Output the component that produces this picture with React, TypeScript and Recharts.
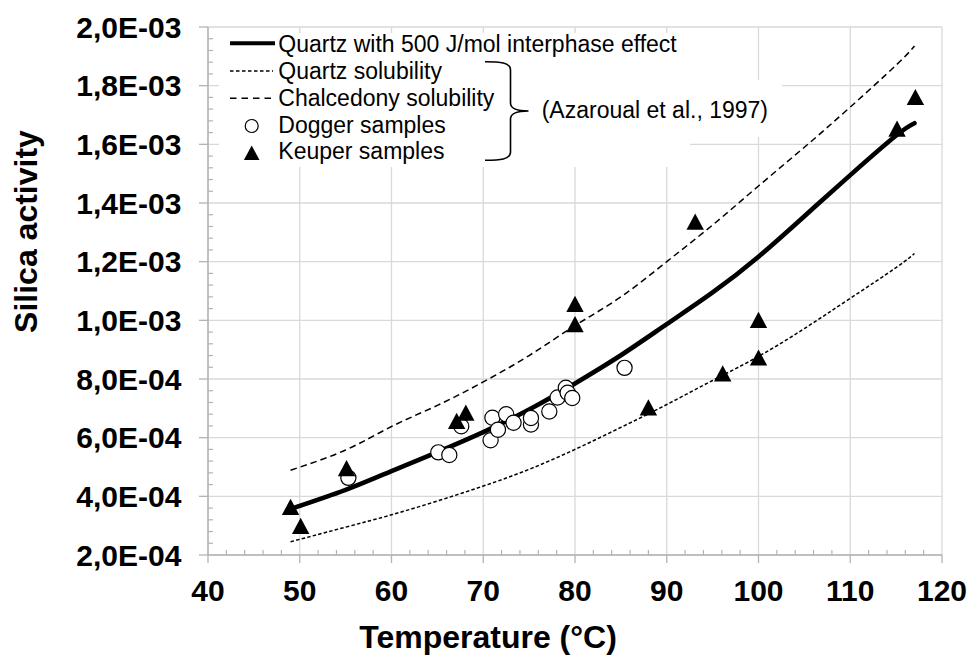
import React from 'react';
import { ComposedChart, Line, Scatter, XAxis, YAxis, CartesianGrid } from 'recharts';

// ---- data ----
const curveTemps = [49, 55, 60, 65, 70, 75, 80, 85, 90, 95, 100, 105, 110, 115, 117];
const interphaseQuartz = [3.57e-4, 4.22e-4, 4.86e-4, 5.51e-4, 6.19e-4, 6.96e-4, 7.85e-4, 8.81e-4, 9.87e-4, 1.095e-3, 1.217e-3, 1.355e-3, 1.495e-3, 1.63e-3, 1.672e-3];
const quartzSolubility = [2.45e-4, 2.95e-4, 3.37e-4, 3.84e-4, 4.35e-4, 4.92e-4, 5.6e-4, 6.35e-4, 7.13e-4, 7.95e-4, 8.77e-4, 9.72e-4, 1.075e-3, 1.18e-3, 1.228e-3];
const chalcedonySolubility = [4.89e-4, 5.58e-4, 6.38e-4, 7.1e-4, 7.9e-4, 8.8e-4, 9.82e-4, 1.08e-3, 1.2e-3, 1.325e-3, 1.458e-3, 1.59e-3, 1.727e-3, 1.87e-3, 1.935e-3];

const doggerTemps = [55.3, 65.1, 66.3, 67.6, 70.8, 71.0, 71.6, 72.5, 73.3, 75.2, 75.2, 77.2, 78.1, 79.0, 79.2, 79.7, 85.4];
const doggerActivity = [4.63e-4, 5.5e-4, 5.41e-4, 6.39e-4, 5.91e-4, 6.68e-4, 6.27e-4, 6.8e-4, 6.51e-4, 6.45e-4, 6.67e-4, 6.89e-4, 7.37e-4, 7.7e-4, 7.53e-4, 7.35e-4, 8.38e-4];

const keuperTemps = [49.0, 50.1, 55.1, 67.1, 68.1, 80.0, 80.0, 88.0, 93.1, 96.1, 100.0, 100.0, 115.1, 117.1];
const keuperActivity = [3.63e-4, 2.98e-4, 4.95e-4, 6.56e-4, 6.84e-4, 1.055e-3, 9.86e-4, 7.02e-4, 1.335e-3, 8.18e-4, 1.0e-3, 8.72e-4, 1.652e-3, 1.76e-3];

const xMajorTicks = [40, 50, 60, 70, 80, 90, 100, 110, 120];
const xTickLabels = ['40', '50', '60', '70', '80', '90', '100', '110', '120'];
const yMajorTicks = [2e-4, 4e-4, 6e-4, 8e-4, 1e-3, 1.2e-3, 1.4e-3, 1.6e-3, 1.8e-3, 2e-3];
const yTickLabels = ['2,0E-04', '4,0E-04', '6,0E-04', '8,0E-04', '1,0E-03', '1,2E-03', '1,4E-03', '1,6E-03', '1,8E-03', '2,0E-03'];

const legendLabels = [
  'Quartz with 500 J/mol interphase effect',
  'Quartz solubility',
  'Chalcedony solubility',
  'Dogger samples',
  'Keuper samples',
];
const referenceLabel = '(Azaroual et al., 1997)';
const xTitle = 'Temperature (°C)';
const yTitle = 'Silica activity';

// ---- derived tables ----
const toPts = (xs: number[], ys: number[]) => xs.map((x, i) => ({ x, y: ys[i] }));
const interphaseData = toPts(curveTemps, interphaseQuartz);
const quartzData = toPts(curveTemps, quartzSolubility);
const chalcedonyData = toPts(curveTemps, chalcedonySolubility);
const doggerData = toPts(doggerTemps, doggerActivity);
const keuperData = toPts(keuperTemps, keuperActivity);

const xAllTicks: number[] = [];
for (let i = 0; i < xMajorTicks.length - 1; i++) {
  const a = xMajorTicks[i];
  const b = xMajorTicks[i + 1];
  for (let k = 0; k < 5; k++) xAllTicks.push(a + ((b - a) * k) / 5);
}
xAllTicks.push(xMajorTicks[xMajorTicks.length - 1]);

const yAllTicks: number[] = [];
for (let i = 0; i < yMajorTicks.length - 1; i++) {
  const a = yMajorTicks[i];
  const b = yMajorTicks[i + 1];
  for (let k = 0; k < 5; k++) yAllTicks.push(a + ((b - a) * k) / 5);
}
yAllTicks.push(yMajorTicks[yMajorTicks.length - 1]);

const FONT = '"Liberation Sans", Arial, Helvetica, sans-serif';
const AXIS = '#b3b3b3';
const GRID = '#d9d9d9';

const findIdx = (arr: number[], v: number, tol: number) => arr.findIndex((a) => Math.abs(a - v) < tol);

const XTick = (props: any) => {
  const { x, y, payload } = props;
  const idx = findIdx(xMajorTicks, payload.value, 1e-6);
  if (idx >= 0) {
    return (
      <g>
        <line x1={x} x2={x} y1={y} y2={y + 8} stroke={AXIS} strokeWidth={1.3} />
        <text x={x} y={y + 45.7} textAnchor="middle" fontSize={30} fontWeight="bold" fontFamily={FONT} fill="#000">
          {xTickLabels[idx]}
        </text>
      </g>
    );
  }
  return <line x1={x} x2={x} y1={y} y2={y - 5} stroke={AXIS} strokeWidth={1.2} />;
};

const YTick = (props: any) => {
  const { x, y, payload } = props;
  const idx = findIdx(yMajorTicks, payload.value, 1e-8);
  if (idx >= 0) {
    return (
      <g>
        <line x1={x - 9} x2={x} y1={y} y2={y} stroke={AXIS} strokeWidth={1.3} />
        <text x={x - 26.6} y={y + 10.6} textAnchor="end" fontSize={30} fontWeight="bold" fontFamily={FONT} fill="#000">
          {yTickLabels[idx]}
        </text>
      </g>
    );
  }
  return <line x1={x} x2={x + 5} y1={y} y2={y} stroke={AXIS} strokeWidth={1.2} />;
};

const circleShape = (p: any) => (
  <circle cx={p.cx} cy={p.cy} r={7.6} fill="#fff" stroke="#000" strokeWidth={1.2} />
);
const triangleShape = (p: any) => (
  <path d={`M${p.cx},${p.cy - 8.5} L${p.cx + 8.7},${p.cy + 7.7} L${p.cx - 8.7},${p.cy + 7.7} Z`} fill="#000" />
);

const legendBaselines = [51.7, 78.8, 105.8, 132.6, 159.4];

export default function App() {
  return (
    <div style={{ position: 'absolute', left: 0, top: 0, width: 967, height: 656, background: '#fff' }}>
      <ComposedChart
        width={967}
        height={656}
        margin={{ top: 27, right: 25, left: 0, bottom: 0 }}
        style={{ position: 'absolute', left: 0, top: 0 }}
      >
        <CartesianGrid stroke={GRID} strokeWidth={1.3} horizontalValues={yMajorTicks} verticalValues={xMajorTicks} />
        <XAxis
          type="number"
          dataKey="x"
          domain={[40, 120]}
          ticks={xAllTicks}
          interval={0}
          allowDataOverflow
          height={101}
          tickLine={false}
          tickSize={0}
          tickMargin={0}
          axisLine={{ stroke: AXIS, strokeWidth: 1.5 }}
          tick={<XTick />}
        />
        <YAxis
          type="number"
          dataKey="y"
          domain={[2e-4, 2e-3]}
          ticks={yAllTicks}
          interval={0}
          allowDataOverflow
          width={208}
          tickLine={false}
          tickSize={0}
          tickMargin={0}
          axisLine={{ stroke: AXIS, strokeWidth: 1.5 }}
          tick={<YTick />}
        />
        <Line data={quartzData} dataKey="y" type="natural" stroke="#000" strokeWidth={1.5} strokeDasharray="3.5 2.2" dot={false} activeDot={false} isAnimationActive={false} />
        <Line data={chalcedonyData} dataKey="y" type="natural" stroke="#000" strokeWidth={1.5} strokeDasharray="6.5 4" dot={false} activeDot={false} isAnimationActive={false} />
        <Line data={interphaseData} dataKey="y" type="natural" stroke="#000" strokeWidth={4.6} strokeLinecap="round" dot={false} activeDot={false} isAnimationActive={false} />
        <Scatter data={doggerData} dataKey="y" shape={circleShape} isAnimationActive={false} />
        <Scatter data={keuperData} dataKey="y" shape={triangleShape} isAnimationActive={false} />
      </ComposedChart>
      <svg width={967} height={656} style={{ position: 'absolute', left: 0, top: 0, pointerEvents: 'none' }}>
        <rect x={219} y={33} width={471} height={134} fill="#fff" />
        <rect x={530} y={80} width={252} height={57} fill="#fff" />
        {/* legend samples */}
        <line x1={230} x2={275} y1={43.3} y2={43.3} stroke="#000" strokeWidth={4} />
        <line x1={230} x2={273} y1={71} y2={71} stroke="#000" strokeWidth={1.4} strokeDasharray="3.5 2.5" />
        <line x1={230} x2={271} y1={98.3} y2={98.3} stroke="#000" strokeWidth={1.4} strokeDasharray="6.5 5" />
        <circle cx={251.7} cy={126} r={6.5} fill="#fff" stroke="#000" strokeWidth={1.2} />
        <path d="M251.7,145.5 L259.5,160 L243.9,160 Z" fill="#000" />
        {legendLabels.map((t, i) => (
          <text key={t} x={278.3} y={legendBaselines[i]} fontSize={23} fontFamily={FONT} fill="#000">
            {t}
          </text>
        ))}
        {/* brace */}
        <path
          d="M485,61.7 C500,61.7 510.5,62.5 510.5,70 L510.5,103 C510.5,108 515,111 528.5,111 C515,111 510.5,114 510.5,119 L510.5,152 C510.5,159.5 500,160.3 485,160.3"
          fill="none"
          stroke="#000"
          strokeWidth={1.6}
        />
        <text x={541.7} y={117.5} fontSize={23} fontFamily={FONT} fill="#000">
          {referenceLabel}
        </text>
        {/* axis titles */}
        <text x={488} y={648} textAnchor="middle" fontSize={32} fontWeight="bold" fontFamily={FONT} fill="#000">
          {xTitle}
        </text>
        <text
          x={0}
          y={0}
          transform="translate(36.5,231.5) rotate(-90)"
          textAnchor="middle"
          fontSize={32}
          fontWeight="bold"
          fontFamily={FONT}
          fill="#000"
        >
          {yTitle}
        </text>
      </svg>
    </div>
  );
}
